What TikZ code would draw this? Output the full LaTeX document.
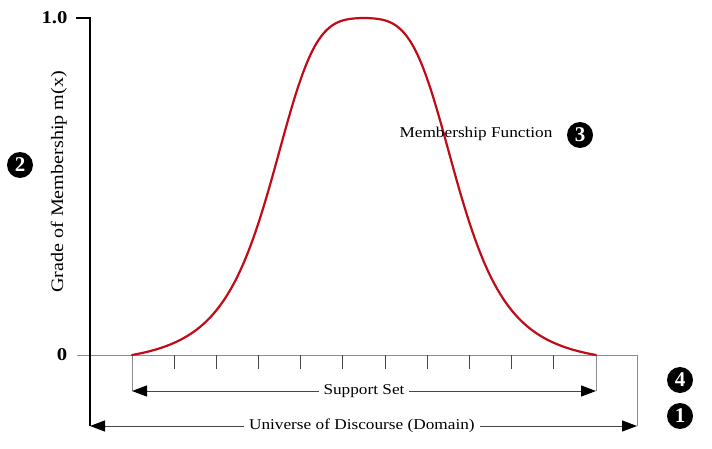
\documentclass[tikz,border=0pt]{standalone}
\usepackage{fontspec}
\setmainfont{Liberation Serif}[FakeStretch=1.15]
\newfontfamily\badgefont{Liberation Serif}
\usetikzlibrary{arrows.meta}
\definecolor{curvered}{RGB}{192,12,24}
\definecolor{axisgray}{RGB}{140,140,140}
\definecolor{arrowgray}{RGB}{70,70,70}
\begin{document}
\begin{tikzpicture}[x=1pt,y=-1pt,
  lbl/.style={font=\fontsize{15}{17}\selectfont, inner sep=0pt, text=black},
  ylbl/.style={font=\fontsize{17.5}{19}\selectfont, inner sep=0pt, rotate=90, anchor=base},
  numlbl/.style={font=\fontsize{18}{20}\selectfont\bfseries, inner sep=0pt},
  badge/.style={circle, fill=black, text=white, minimum size=26pt, inner sep=0pt,
    font=\badgefont\fontsize{21}{21}\selectfont\bfseries},
  thinline/.style={axisgray, line width=1pt},
  tickline/.style={arrowgray, line width=0.9pt},
  dimarrow/.style={arrowgray, line width=1pt,
    {Triangle[length=15pt,width=11pt,color=black]}-{Triangle[length=15pt,width=11pt,color=black]}},
  gaplabel/.style={lbl, fill=white, inner xsep=5pt, inner ysep=2pt}
]
\useasboundingbox (0,0) rectangle (712,449);

% key coordinates
\coordinate (top) at (90,18);
\coordinate (topL) at (76,18);
\coordinate (axL) at (77,355);
\coordinate (axR) at (637,355);
\coordinate (yBot) at (90,426);
\coordinate (uR) at (637,426);
\coordinate (sL) at (132,355);
\coordinate (sLb) at (132,391);
\coordinate (sR) at (596,355);
\coordinate (sRb) at (596,391);

% axes
\draw[thinline] (axL) -- (axR);
\draw[thinline] (axR) -- (uR);
\draw[thinline] (sL) -- (sLb);
\draw[thinline] (sR) -- (sRb);
\draw[black, line width=1.3pt] (topL) -- (top) -- (yBot);

% ticks
\foreach \k in {1,...,10}
  \draw[tickline] ({132+42.18*\k},355) -- ++(0,14);

% arrows
\draw[dimarrow] (sLb) -- (sRb) node[gaplabel, midway] (support) {Support Set};
\draw[dimarrow] (yBot) -- (uR) node[gaplabel, pos=0.497] (universe) {Universe of Discourse (Domain)};

% curve
\draw[curvered, line width=2.2pt, line cap=round]
  plot[domain=132:596, samples=200, smooth]
  (\x, {355 - 337*((1/(1+0.1*((\x-364)/96)*((\x-364)/96)+0.9*((\x-364)/96)*((\x-364)/96)*((\x-364)/96)*((\x-364)/96))) - 0.03098)/0.96902});

% labels
\node[numlbl] (one0) at (54.5,18) {1.0};
\node[numlbl] (zero) at (62,355) {0};
\node[ylbl] (ylabel) at (63,182) {Grade of Membership m(x)};
\node[lbl, anchor=base] (mf) at (476,138) {Membership Function};

% badges
\node[badge] (b2) at (20,165) {2};
\node[badge] (b3) at (580,135) {3};
\node[badge] (b4) at (680,380) {4};
\node[badge] (b1) at (680,416) {1};
\end{tikzpicture}
\end{document}
